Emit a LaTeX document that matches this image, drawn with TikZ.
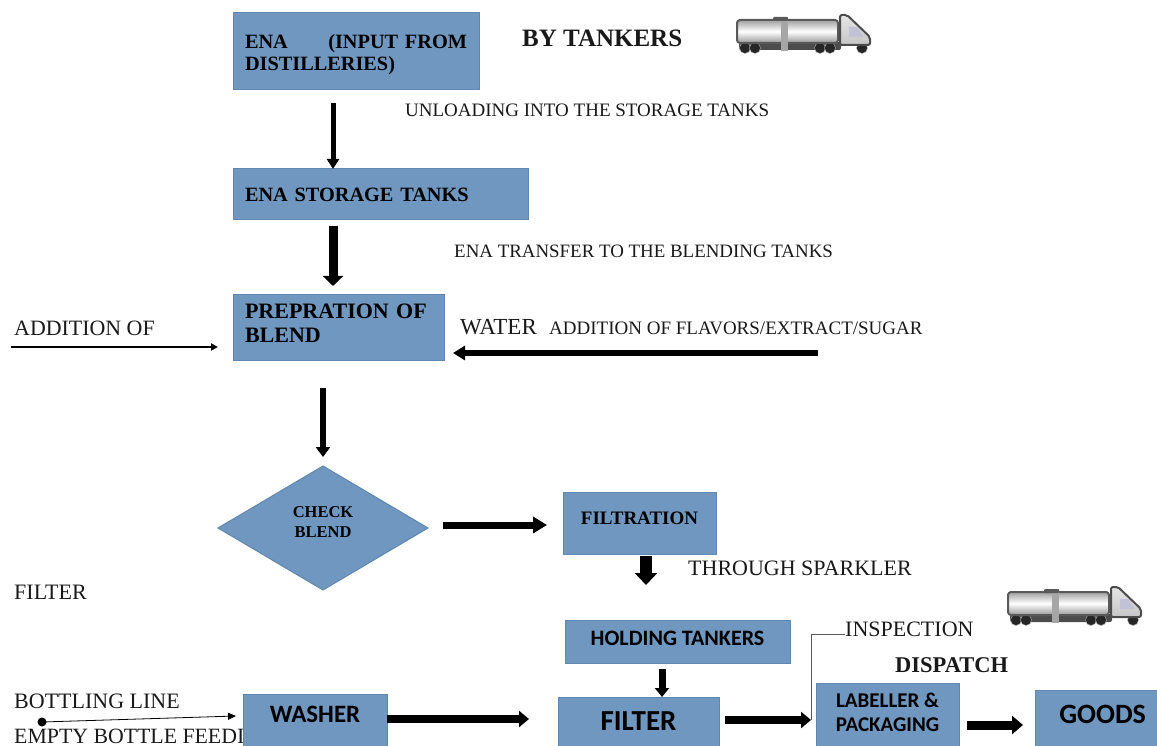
\documentclass[tikz,border=0pt]{standalone}
\usepackage{fontspec}
\setmainfont{Liberation Serif}
\newfontfamily\boxfont{Carlito}
\usetikzlibrary{arrows.meta,shapes.geometric}
\definecolor{boxblue}{HTML}{6F97BF}
\definecolor{boxedge}{HTML}{5F87AF}
\tikzset{
  box/.style={draw=boxedge,fill=boxblue,line width=1pt,outer sep=0pt,inner sep=0pt,font=\fontsize{20.3}{22}\selectfont\bfseries},
  carlitobox/.style={box,font=\fontsize{#1}{24}\selectfont\boxfont\bfseries},
  raised/.style={text height=12pt,text depth=2*#1},
  lbl/.style={anchor=west,inner sep=0pt,text=black!90,font=\fontsize{#1}{20}\selectfont},
  flow/.style n args={3}{draw=black,line width=#1pt,-{Triangle[length=#2pt,width=#3pt]}},
  truck/.pic={
    \fill[gray!60!black,rounded corners=2pt] (2,29) rectangle (104,37);
    \foreach \wx in {8,18,83,93,125}
      \fill[black!85,draw=gray!60] (\wx,35) circle (5.5);
    \shade[top color=gray!75,bottom color=gray!80,middle color=white,draw=gray!70!black,line width=2pt,rounded corners=3pt] (0,7) rectangle (101,30);
    \fill[gray!70] (44,4) rectangle (51,38);
    \fill[gray!70!black,rounded corners=1pt] (36,4) rectangle (51,8);
    \shade[top color=gray!20,bottom color=gray!45,draw=gray!60!black,line width=2pt,rounded corners=2pt] (103,32) -- (103,2) -- (110,2) -- (133,24) -- (133,32) -- cycle;
    \fill[blue!20!gray!40] (112,14) -- (120,14) -- (127,24) -- (112,24) -- cycle;
  }
}
\begin{document}
\begin{tikzpicture}[x=1pt,y=-1pt]
  \clip (0,0) rectangle (1157,746);
  \draw
    (522,38) node[lbl=25,font=\fontsize{25}{28}\selectfont\bfseries] (tankers){BY TANKERS}
    (405,110) node[lbl=19] (unloading){UNLOADING INTO THE STORAGE TANKS}
    (454,251) node[lbl=18.9] (transfer){ENA TRANSFER TO THE BLENDING TANKS}
    (14,328) node[lbl=21.9] (addition){ADDITION OF}
    (460,327) node[lbl=23] (water){WATER}
    (549,328) node[lbl=19] (flavors){ADDITION OF FLAVORS/EXTRACT/SUGAR}
    (14,592) node[lbl=22] (filterlbl){FILTER}
    (688,568) node[lbl=22] (sparkler){THROUGH SPARKLER}
    (845,629) node[lbl=22] (inspection){INSPECTION}
    (895,665) node[lbl=22,font=\fontsize{22.5}{24}\selectfont\bfseries] (dispatch){DISPATCH}
    (14,701) node[lbl=22] (bottling){BOTTLING LINE}
    (14,736) node[lbl=21.8] (empty){EMPTY BOTTLE FEEDI};
  \draw
    (356,51.5) node[box,minimum width=246pt,minimum height=77pt,align=left,text width=222pt] (ena){\rule{0pt}{20pt}ENA\hfill(INPUT FROM\\DISTILLERIES)}
    (380.5,194.5) node[box,minimum width=295pt,minimum height=51pt,align=left,text width=271pt] (storage){ENA STORAGE TANKS}
    (338.5,327) node[box,minimum width=211pt,minimum height=66pt,align=left,text width=187pt,font=\fontsize{22}{24}\selectfont\bfseries] (blend){PREPRATION OF\\BLEND\rule[-8pt]{0pt}{0pt}}
    (323,528) node[box,diamond,aspect=1.69,minimum width=210pt,minimum height=124pt,align=center,font=\fontsize{16.5}{20}\selectfont\bfseries] (check){CHECK\\BLEND\rule[-12pt]{0pt}{0pt}}
    (639.5,523) node[box,minimum width=153pt,minimum height=62pt,font=\fontsize{19}{20}\selectfont\bfseries,raised=5pt] (filtration){FILTRATION}
    (677.5,641.5) node[carlitobox=22,minimum width=225pt,minimum height=43pt,raised=2pt] (holding){HOLDING TANKERS}
    (315,720) node[carlitobox=25,minimum width=144pt,minimum height=52pt,raised=4pt] (washer){WASHER}
    (638.5,721.5) node[carlitobox=29,minimum width=161pt,minimum height=49pt] (filter){FILTER}
    (887.5,714.5) node[carlitobox=21,minimum width=143pt,minimum height=63pt,align=center] (labeller){LABELLER \&\\PACKAGING\rule[-4pt]{0pt}{0pt}}
    (1096,718) node[carlitobox=28,minimum width=122pt,minimum height=56pt,raised=1pt,text width=100pt,align=right] (goods){GOODS};
  \coordinate (bend) at (811,720);
  \coordinate (bottledot) at (42,722);
  \coordinate (flavorstart) at (818,353);
  \coordinate (additionstart) at (11,347);
  \fill (bottledot) circle (4.5);
  \begin{scope}
    \draw[flow={5}{10}{12}] ([shift={(-23,13)}]ena.south) to ([shift={(-47.5,0)}]storage.north);
    \draw[flow={9}{10}{20}] ([shift={(-47.5,6)}]storage.south) to ([shift={(-5.5,-8)}]blend.north);
    \draw[flow={6}{12}{14}] (flavorstart) to ([shift={(9,26)}]blend.east);
    \draw[flow={2}{7}{7}] (additionstart) to ([shift={(-15,20)}]blend.west);
    \draw[flow={6}{10}{14}] ([shift={(-15.5,28)}]blend.south) to ([shift={(0,-9)}]check.north);
    \draw[flow={7}{14}{16}] ([shift={(15,-3)}]check.east) to ([shift={(-16,2)}]filtration.west);
    \draw[flow={12}{12}{22}] ([shift={(6.5,2)}]filtration.south) to ([shift={(-31.5,-35)}]holding.north);
    \draw[flow={7}{9}{14}] ([shift={(-15.5,6)}]holding.south) to ([shift={(23.5,0)}]filter.north);
    \draw[flow={8}{10}{16}] ([shift={(0,-1)}]washer.east) to ([shift={(-29,-2.5)}]filter.west);
    \draw[flow={8}{10}{16}] ([shift={(6,-1.5)}]filter.east) to (bend);
    \draw[flow={9}{11}{18}] ([shift={(8,10.5)}]labeller.east) to ([shift={(-12,7)}]goods.west);
    \draw[gray!70!black,line width=1pt] ([shift={(0,5)}]inspection.west) -| (bend);
    \draw[-{Triangle[length=8pt,width=7pt]},line width=0.8pt] (bottledot) to ([shift={(-7,-4)}]washer.west);
  \end{scope}
  \pic at (737,13) {truck};
  \pic at (1008,585) {truck};
\end{tikzpicture}
\end{document}
